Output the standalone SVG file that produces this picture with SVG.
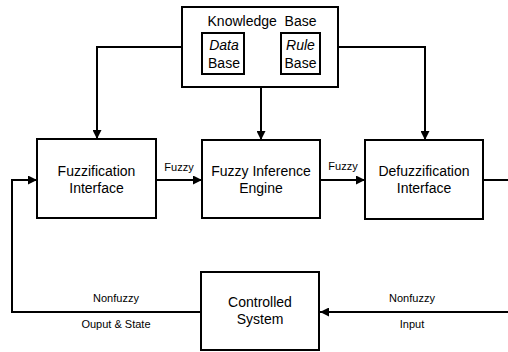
<svg xmlns="http://www.w3.org/2000/svg" width="508" height="352" viewBox="0 0 508 352">
<style>
  .box { fill: #fff; stroke: #000; stroke-width: 2; }
  .conn { fill: none; stroke: #000; stroke-width: 2; }
  .t { font-family: "Liberation Sans", Arial, sans-serif; font-size: 14px; fill: #000; text-anchor: middle; }
  .s { font-family: "Liberation Sans", Arial, sans-serif; font-size: 11px; fill: #000; text-anchor: middle; }
  .i { font-style: italic; }
</style>
<defs>
  <marker id="arr" viewBox="0 0 10 10" refX="10" refY="5" markerWidth="9" markerHeight="9" markerUnits="userSpaceOnUse" orient="auto">
    <path d="M0,0 L10,5 L0,10 Z" fill="#000"/>
  </marker>
</defs>
<rect width="508" height="352" fill="#fff"/>
<g id="connectors">
  <path class="conn" d="M182,47 H97 V139" marker-end="url(#arr)"/>
  <path class="conn" d="M261,87 V140" marker-end="url(#arr)"/>
  <path class="conn" d="M338,47 H425 V140" marker-end="url(#arr)"/>
  <path class="conn" d="M156,180 H202" marker-end="url(#arr)"/>
  <path class="conn" d="M320,180 H365" marker-end="url(#arr)"/>
  <path class="conn" d="M483,180 H511 V312 H320" marker-end="url(#arr)"/>
  <path class="conn" d="M201,312 H12 V180 H37" marker-end="url(#arr)"/>
  <text class="s" x="179" y="171">Fuzzy</text>
  <text class="s" x="343" y="170">Fuzzy</text>
  <text class="s" x="116" y="302">Nonfuzzy</text>
  <text class="s" x="116" y="328">Ouput &amp; State</text>
  <text class="s" x="412" y="302">Nonfuzzy</text>
  <text class="s" x="412" y="328">Input</text>
</g>
<g id="knowledge-base">
  <rect class="box" x="182" y="7" width="156" height="80"/>
  <text class="t" x="262" y="26" xml:space="preserve">Knowledge  Base</text>
</g>
<g id="data-base">
  <rect class="box" x="202" y="33" width="42" height="41"/>
  <text class="t i" x="224" y="50">Data</text>
  <text class="t" x="224" y="68">Base</text>
</g>
<g id="rule-base">
  <rect class="box" x="281" y="33" width="39" height="41"/>
  <text class="t i" x="300.5" y="50">Rule</text>
  <text class="t" x="300.5" y="68">Base</text>
</g>
<g id="fuzzification">
  <rect class="box" x="37" y="139" width="119" height="79"/>
  <text class="t" x="96.5" y="176">Fuzzification</text>
  <text class="t" x="96.5" y="193">Interface</text>
</g>
<g id="inference">
  <rect class="box" x="202" y="140" width="118" height="78"/>
  <text class="t" x="261" y="176">Fuzzy Inference</text>
  <text class="t" x="261" y="193">Engine</text>
</g>
<g id="defuzzification">
  <rect class="box" x="365" y="140" width="118" height="79"/>
  <text class="t" x="424" y="176">Defuzzification</text>
  <text class="t" x="424" y="193">Interface</text>
</g>
<g id="controlled-system">
  <rect class="box" x="201" y="272" width="118" height="78"/>
  <text class="t" x="260" y="307">Controlled</text>
  <text class="t" x="260" y="324">System</text>
</g>
</svg>
